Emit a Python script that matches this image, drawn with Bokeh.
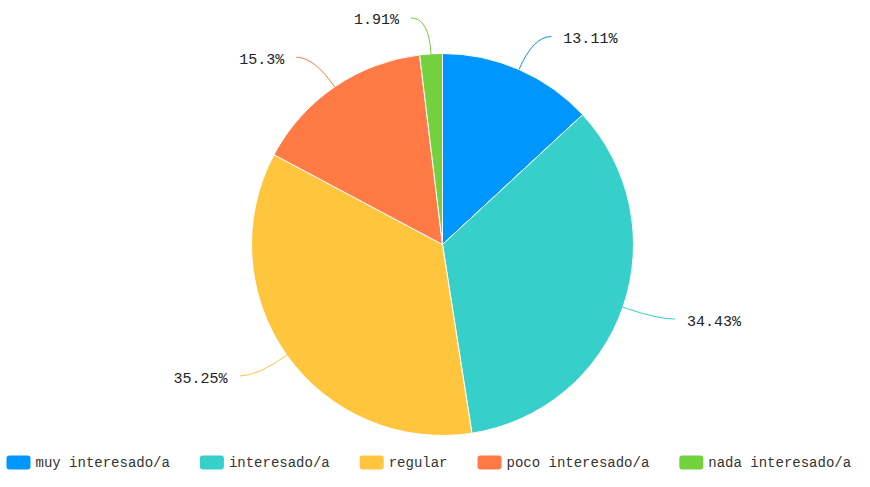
import math
from bokeh.plotting import figure
from bokeh.models import Range1d
from bokeh.core.properties import value
from bokeh.embed import file_html
from bokeh.resources import INLINE

categories = ["muy interesado/a", "interesado/a", "regular", "poco interesado/a", "nada interesado/a"]
values = [13.11, 34.43, 35.25, 15.3, 1.91]
labels = ["13.11%", "34.43%", "35.25%", "15.3%", "1.91%"]
colors = ["#0096FF", "#36CFC9", "#FFC53D", "#FF7A45", "#73D13D"]

W, H = 854, 471
p = figure(width=W, height=H, output_backend="svg", toolbar_location=None,
           x_range=Range1d(0, W), y_range=Range1d(0, H), min_border=0)
p.axis.visible = False
p.grid.visible = False
p.outline_line_color = None

cx, cy, r = 442, H - 244, 191
L1, L2, GAP = 36, 18, 12
FONT = "Liberation Mono"

total = sum(values)
cum = 0.0
starts, ends = [], []
for v in values:
    a0 = math.pi / 2 - 2 * math.pi * cum / total
    cum += v
    a1 = math.pi / 2 - 2 * math.pi * cum / total
    starts.append(a0)
    ends.append(a1)

p.wedge(x=cx, y=cy, radius=r, start_angle=starts, end_angle=ends, direction="clock",
        fill_color=colors, line_color="white", line_width=1)

for i, v in enumerate(values):
    mid = (starts[i] + ends[i]) / 2
    dx, dy = math.cos(mid), math.sin(mid)
    x0, y0 = cx + r * dx, cy + r * dy
    xe, ye = cx + (r + L1) * dx, cy + (r + L1) * dy
    side = 1 if dx >= 0 else -1
    x1, y1 = xe + side * L2, ye
    p.quadratic(x0=[x0], y0=[y0], x1=[x1], y1=[y1], cx=[xe], cy=[ye],
                line_color=colors[i], line_width=1)
    p.text(x=[x1 + side * GAP], y=[y1 - 3], text=[labels[i]],
           text_align="left" if side > 0 else "right", text_baseline="middle",
           text_font=value(FONT), text_font_size="15px", text_color="#222222")

# legend
lx = 6
ly = H - 462
cw = 8.4
for i, c in enumerate(categories):
    p.rect(x=[lx + 12], y=[ly], width=24, height=14, fill_color=colors[i],
           line_color=None, border_radius=3)
    p.text(x=[lx + 29], y=[ly], text=[c], text_align="left", text_baseline="middle",
           text_font=value(FONT), text_font_size="14px", text_color="#333333")
    lx += 29 + len(c) * cw + 30

open("out.html", "w").write(file_html(p, INLINE))
